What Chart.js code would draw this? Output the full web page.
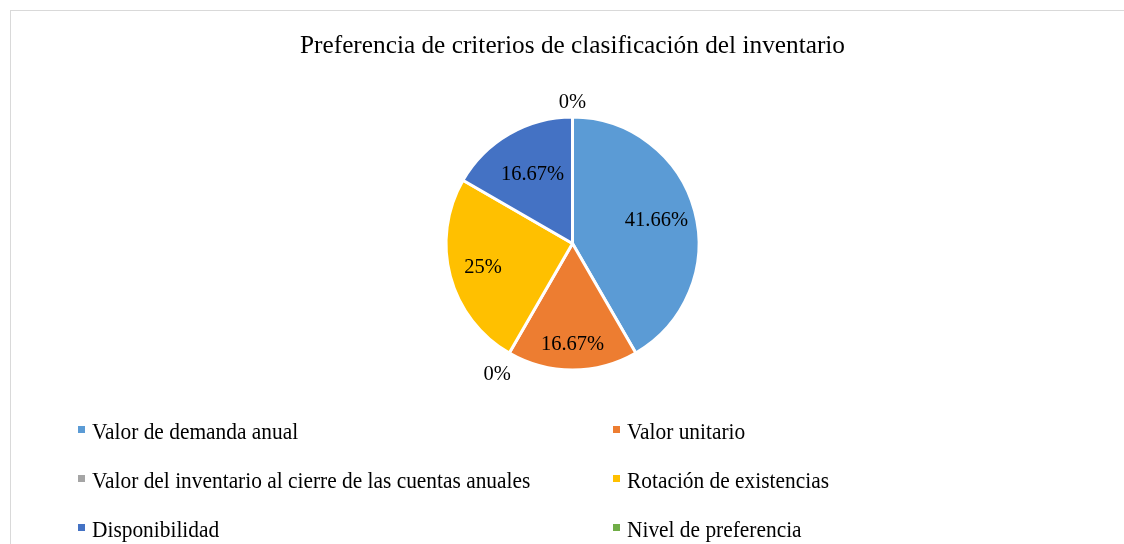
<!DOCTYPE html>
<html>
<head>
<meta charset="utf-8">
<script src="https://cdn.jsdelivr.net/npm/chart.js@4/dist/chart.umd.min.js"></script>
<style>
  body { margin: 0; background: #fff; }
  #wrap { position: relative; width: 1124px; height: 544px; overflow: hidden; }
  #frame { position: absolute; left: 10px; top: 10px; width: 1130px; height: 560px; border: 1px solid #d9d9d9; box-sizing: border-box; }
  #chart { position: absolute; left: 0; top: 0; }
  #legend { position: absolute; left: 0; top: 0; width: 1124px; height: 544px; font-family: 'Liberation Serif', serif; font-size: 21.4px; color: #000; }
  .item { position: absolute; white-space: nowrap; line-height: 24px; height: 24px; }
  .item span { position: absolute; left: 0; top: 6px; width: 7px; height: 7px; }
  .item b { position: absolute; left: 14px; top: 0; font-weight: normal; transform: scaleY(1.12); transform-origin: 0 19px; }
</style>
</head>
<body>
<div id="wrap">
  <div id="frame"></div>
  <canvas id="chart" width="1124" height="400"></canvas>
  <div id="legend"></div>
</div>
<script>
const categories = ['Valor de demanda anual', 'Valor unitario', 'Valor del inventario al cierre de las cuentas anuales', 'Rotación de existencias', 'Disponibilidad', 'Nivel de preferencia'];
const values = [41.66, 16.67, 0, 25, 16.67, 0];
const valueLabels = ['41.66%', '16.67%', '0%', '25%', '16.67%', '0%'];
const colors = ['#5B9BD5', '#ED7D31', '#A5A5A5', '#FFC000', '#4472C4', '#70AD47'];

// labels on the slices, zero slices get theirs outside
const sliceLabels = {
    id: 'sliceLabels',
    afterDatasetsDraw(chart) {
        const ctx = chart.ctx;
        const arcs = chart.getDatasetMeta(0).data;
        ctx.save();
        ctx.font = '20.5px "Liberation Serif", serif';
        ctx.fillStyle = '#000';
        ctx.textAlign = 'center';
        ctx.textBaseline = 'middle';
        arcs.forEach((arc, i) => {
            const p = arc.getProps(['x', 'y', 'startAngle', 'endAngle', 'outerRadius']);
            const mid = (p.startAngle + p.endAngle) / 2;
            const s = Math.sin(mid);
            let r;
            if (values[i] === 0) {
                r = p.outerRadius + 14 + 12 * Math.max(0, s);
            } else {
                r = p.outerRadius * (0.71 + 0.09 * s);
            }
            ctx.fillText(valueLabels[i], p.x + Math.cos(mid) * r, p.y + s * r);
        });
        ctx.restore();
    }
};

new Chart(document.getElementById('chart'), {
    type: 'pie',
    data: {
        labels: categories,
        datasets: [{
            data: values,
            backgroundColor: colors,
            borderColor: '#fff',
            borderWidth: 3
        }]
    },
    options: {
        responsive: false,
        animation: false,
        layout: { padding: { left: 21, right: 0, top: 0, bottom: 28.5 } },
        plugins: {
            legend: { display: false },
            tooltip: { enabled: false },
            title: {
                display: true,
                text: 'Preferencia de criterios de clasificación del inventario',
                color: '#000',
                font: { family: '"Liberation Serif", serif', size: 25.3, weight: 'normal' },
                padding: { top: 31, bottom: 54.2 }
            }
        }
    },
    plugins: [sliceLabels]
});

// two column legend like the original
const legend = document.getElementById('legend');
const colX = [78, 613];
const rowY = [420, 469, 518];
categories.forEach((name, i) => {
    const d = document.createElement('div');
    d.className = 'item';
    d.style.left = colX[i % 2] + 'px';
    d.style.top = rowY[Math.floor(i / 2)] + 'px';
    d.innerHTML = '<span style="background:' + colors[i] + '"></span><b>' + name + '</b>';
    legend.appendChild(d);
});
</script>
</body>
</html>
